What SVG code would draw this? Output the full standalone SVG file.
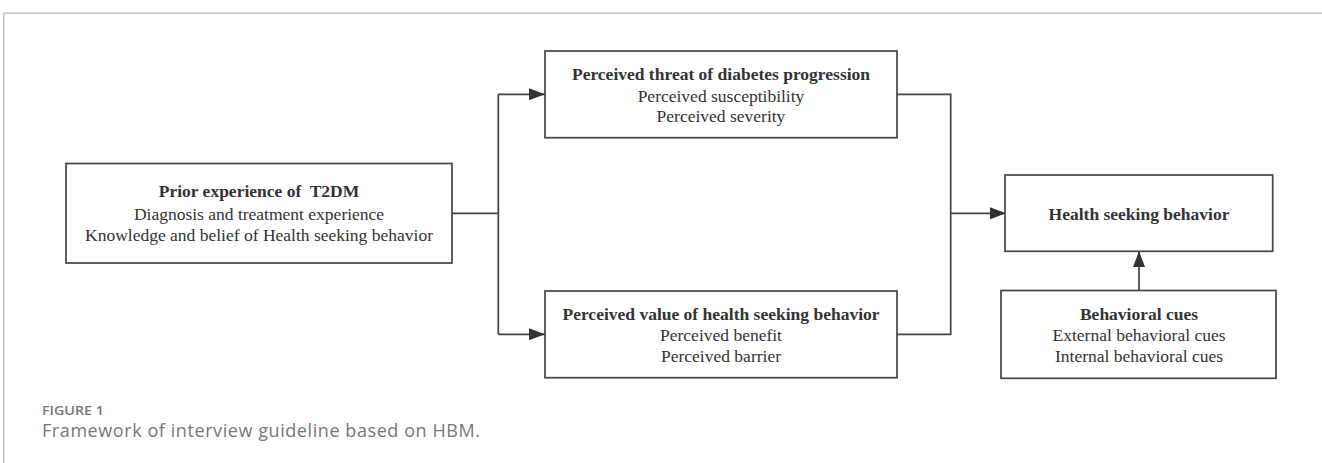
<svg xmlns="http://www.w3.org/2000/svg" width="1322" height="463" viewBox="0 0 1322 463">
<style>
.box{fill:#fff;stroke:#444;stroke-width:1.7}
.t{font-family:"Liberation Serif","Times New Roman",serif;font-size:17.5px;fill:#333;text-anchor:middle}
.b{font-weight:bold}
.c{fill:none;stroke:#444;stroke-width:1.7}
.cap{font-family:"Open Sans","Noto Sans",sans-serif;fill:#777}
</style>
<defs>
<marker id="ah" markerWidth="16" markerHeight="12" refX="16" refY="6" orient="auto" markerUnits="userSpaceOnUse">
<path d="M0,0 L16,6 L0,12 Z" fill="#333"/>
</marker>
</defs>
<rect width="1322" height="463" fill="#fff"/>
<path d="M3.7,463 V13.2 H1322" fill="none" stroke="#bbb" stroke-width="1.3"/>
<g id="connectors">
<path class="c" d="M452,213.3 H498.3"/>
<path class="c" d="M498.3,94.3 V334.3"/>
<path class="c" d="M498.3,94.3 H545" marker-end="url(#ah)"/>
<path class="c" d="M498.3,334.3 H545" marker-end="url(#ah)"/>
<path class="c" d="M897,94.3 H950.7 V334.3 H897"/>
<path class="c" d="M950.7,213.3 H1006" marker-end="url(#ah)"/>
<path class="c" d="M1139,290.5 V251" marker-end="url(#ah)"/>
</g>
<g id="prior">
<rect class="box" x="66" y="163.5" width="386" height="99.5"/>
<text class="t b" x="259" y="197">Prior experience of&#160; T2DM</text>
<text class="t" x="259" y="220">Diagnosis and treatment experience</text>
<text class="t" x="259" y="240.5">Knowledge and belief of Health seeking behavior</text>
</g>
<g id="threat">
<rect class="box" x="545" y="51" width="352" height="86.7"/>
<text class="t b" x="721" y="79.5">Perceived threat of diabetes progression</text>
<text class="t" x="721" y="101.5">Perceived susceptibility</text>
<text class="t" x="721" y="121.8">Perceived severity</text>
</g>
<g id="value">
<rect class="box" x="545" y="291" width="352" height="86.7"/>
<text class="t b" x="721" y="319.5">Perceived value of health seeking behavior</text>
<text class="t" x="721" y="341">Perceived benefit</text>
<text class="t" x="721" y="361.8">Perceived barrier</text>
</g>
<g id="health">
<rect class="box" x="1005" y="175" width="267.7" height="76.3"/>
<text class="t b" x="1139" y="219.5">Health seeking behavior</text>
</g>
<g id="cues">
<rect class="box" x="1001" y="290.5" width="275" height="87.8"/>
<text class="t b" x="1139" y="319.5">Behavioral cues</text>
<text class="t" x="1139" y="340.8">External behavioral cues</text>
<text class="t" x="1139" y="361.8">Internal behavioral cues</text>
</g>
<text class="cap" x="42" y="415" font-size="12.5" font-weight="600" textLength="62" lengthAdjust="spacingAndGlyphs">FIGURE 1</text>
<text class="cap" x="42" y="437" font-size="18" textLength="438">Framework of interview guideline based on HBM.</text>
</svg>
